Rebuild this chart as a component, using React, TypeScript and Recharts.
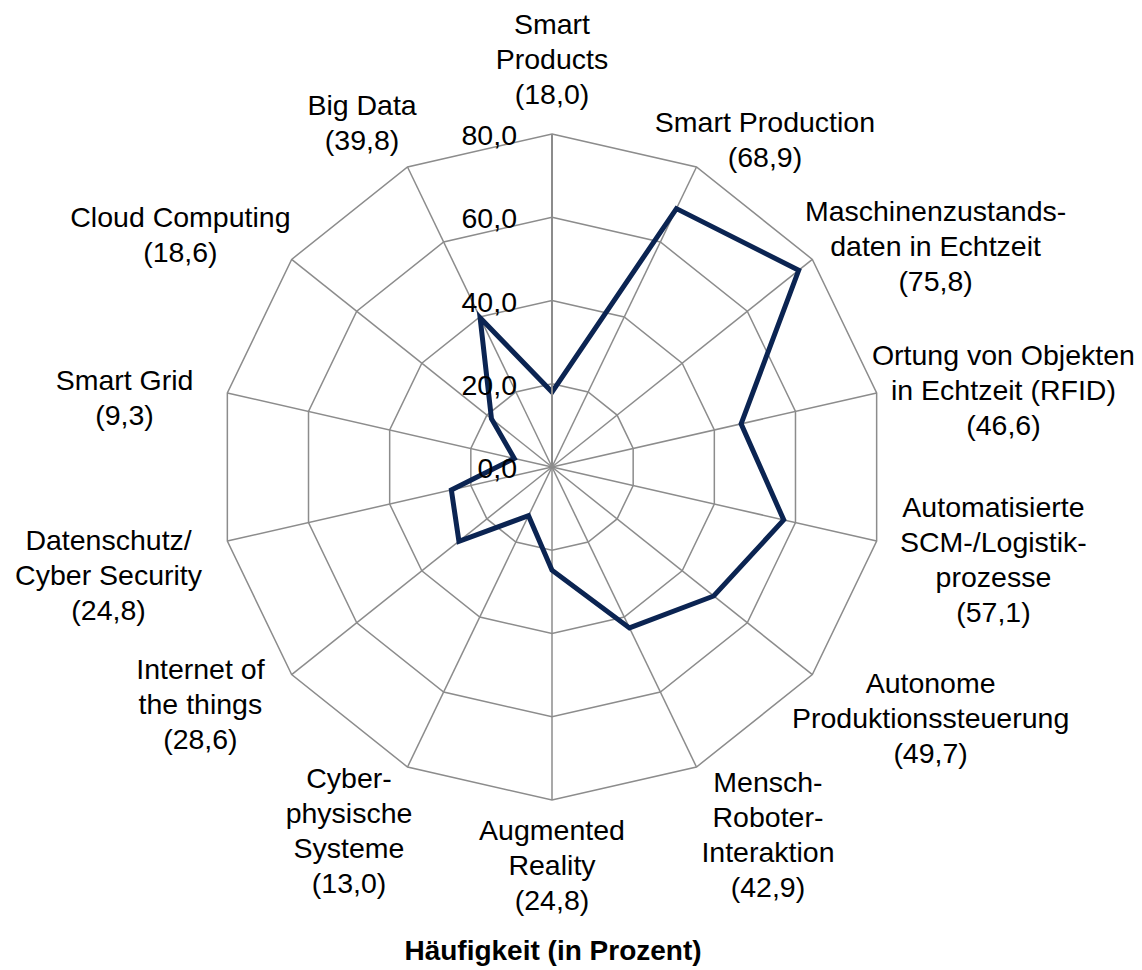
import React from 'react';
import { RadarChart, Radar, PolarGrid, PolarAngleAxis, PolarRadiusAxis } from 'recharts';

const categories = [
  'Smart Products',
  'Smart Production',
  'Maschinenzustandsdaten in Echtzeit',
  'Ortung von Objekten in Echtzeit (RFID)',
  'Automatisierte SCM-/Logistikprozesse',
  'Autonome Produktionssteuerung',
  'Mensch-Roboter-Interaktion',
  'Augmented Reality',
  'Cyber-physische Systeme',
  'Internet of the things',
  'Datenschutz/Cyber Security',
  'Smart Grid',
  'Cloud Computing',
  'Big Data',
];

const values = [18.0, 68.9, 75.8, 46.6, 57.1, 49.7, 42.9, 24.8, 13.0, 28.6, 24.8, 9.3, 18.6, 39.8];

const labelLines = [
  ['Smart', 'Products'],
  ['Smart Production'],
  ['Maschinenzustands-', 'daten in Echtzeit'],
  ['Ortung von Objekten', 'in Echtzeit (RFID)'],
  ['Automatisierte', 'SCM-/Logistik-', 'prozesse'],
  ['Autonome', 'Produktionssteuerung'],
  ['Mensch-', 'Roboter-', 'Interaktion'],
  ['Augmented', 'Reality'],
  ['Cyber-', 'physische', 'Systeme'],
  ['Internet of', 'the things'],
  ['Datenschutz/', 'Cyber Security'],
  ['Smart Grid'],
  ['Cloud Computing'],
  ['Big Data'],
];

const radiusTicks = [0, 20, 40, 60, 80];
const titleText = 'Häufigkeit (in Prozent)';

// layout: label block centre offsets relative to the angle-axis tick point
const labelOffsets: [number, number][] = [
  [0, -67.5],
  [65, -20],
  [117, -8],
  [119, -1],
  [109, 17],
  [112, 38],
  [68, 60.5],
  [0, 57],
  [-55, 56.5],
  [-85, 24],
  [-111, 32],
  [-95, 6],
  [-105, -20],
  [-42, -37],
];

const data = categories.map((name, i) => ({ name, value: values[i] }));

const FONT = '"Liberation Sans", Arial, sans-serif';
const FS = 28.5;
const LINE = 35;
const fmt = (v: number) => v.toFixed(1).replace('.', ',');

const AngleTick = (props: any) => {
  const { x, y, payload } = props;
  const idx = categories.indexOf(payload.value);
  const lines = [...labelLines[idx], `(${fmt(values[idx])})`];
  const [dx, dy] = labelOffsets[idx];
  const cx = x + dx;
  const cy = y + dy;
  const n = lines.length;
  return (
    <g>
      {lines.map((t, i) => (
        <text
          key={i}
          x={cx}
          y={cy + (i - (n - 1) / 2) * LINE}
          textAnchor="middle"
          dominantBaseline="central"
          fontFamily={FONT}
          fontSize={FS}
          fill="#000"
        >
          {t}
        </text>
      ))}
    </g>
  );
};

const RadiusTick = (props: any) => {
  const { x, y, payload } = props;
  return (
    <text
      x={x - 35}
      y={y + 1}
      textAnchor="end"
      dominantBaseline="central"
      fontFamily={FONT}
      fontSize={FS}
      fill="#000"
    >
      {fmt(payload.value)}
    </text>
  );
};

export default function App() {
  return (
    <div style={{ position: 'relative', width: 1134, height: 962, background: '#fff' }}>
      <RadarChart
        width={1134}
        height={962}
        data={data}
        cx={544}
        cy={459}
        outerRadius={333}
        startAngle={90}
        endAngle={-270}
        margin={{ top: 0, right: 0, bottom: 0, left: 0 }}
      >
        <PolarGrid gridType="polygon" stroke="#8c8c8c" strokeWidth={1.5} />
        <PolarAngleAxis dataKey="name" tick={AngleTick} tickLine={false} axisLine={false} />
        <PolarRadiusAxis
          domain={[0, 80]}
          ticks={radiusTicks}
          angle={90}
          tick={RadiusTick}
          tickLine={false}
          axisLine={{ stroke: '#8c8c8c', strokeWidth: 2 }}
          allowDataOverflow
        />
        <Radar
          dataKey="value"
          stroke="#0B2452"
          strokeWidth={5}
          fill="none"
          fillOpacity={0}
          dot={false}
          isAnimationActive={false}
        />
      </RadarChart>
      <div
        style={{
          position: 'absolute',
          left: 0,
          width: 1090,
          top: 927,
          textAlign: 'center',
          fontFamily: FONT,
          fontWeight: 'bold',
          fontSize: 28,
          lineHeight: '32px',
          color: '#000',
        }}
      >
        {titleText}
      </div>
    </div>
  );
}
